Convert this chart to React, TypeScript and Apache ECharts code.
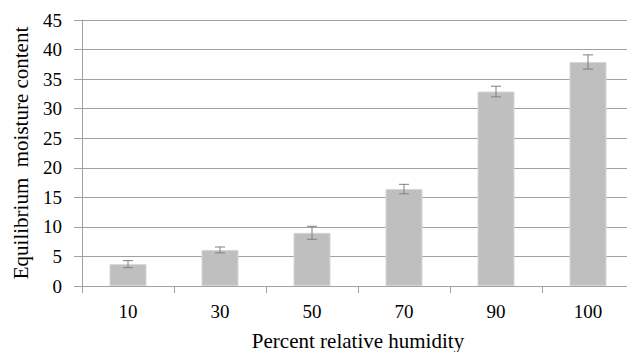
import React, { useEffect, useRef } from "react";
import * as echarts from "echarts";

const categories = ["10", "30", "50", "70", "90", "100"];
const values = [3.7, 6.1, 9.0, 16.4, 32.9, 37.9];
const errors = [0.6, 0.5, 1.1, 0.8, 0.9, 1.2];

export default function App() {
  const ref = useRef<HTMLDivElement>(null);
  useEffect(() => {
    if (!ref.current) return;
    const chart = echarts.init(ref.current, null, { renderer: "svg" });
    const font = "Liberation Serif";
    const errData = values.map((v, i) => [i, v - errors[i], v + errors[i]]);
    chart.setOption({
      animation: false,
      backgroundColor: "#ffffff",
      textStyle: { fontFamily: font },
      grid: { left: 82, top: 20, right: -7, bottom: 66, outerBoundsMode: "none", containLabel: false },
      xAxis: {
        type: "category",
        data: categories,
        name: "Percent relative humidity",
        nameLocation: "middle",
        nameGap: 44,
        nameTextStyle: { fontFamily: font, fontSize: 21, color: "#000" },
        axisLine: { show: true, lineStyle: { color: "#a0a0a0", width: 1 } },
        axisTick: { show: true, length: 7, lineStyle: { color: "#a0a0a0" } },
        axisLabel: { fontFamily: font, fontSize: 19, color: "#000", margin: 16 },
      },
      yAxis: {
        type: "value",
        min: 0,
        max: 45,
        interval: 5,
        name: "Equilibrium  moisture content",
        nameLocation: "middle",
        nameGap: 51,
        nameTextStyle: { fontFamily: font, fontSize: 21, color: "#000" },
        axisLine: { show: true, lineStyle: { color: "#a0a0a0", width: 1 } },
        axisTick: { show: true, length: 8, lineStyle: { color: "#a0a0a0" } },
        axisLabel: { fontFamily: font, fontSize: 19, color: "#000", margin: 20 },
        splitLine: { lineStyle: { color: "#a0a0a0", width: 1 } },
      },
      series: [
        {
          type: "bar",
          data: values,
          barWidth: 37,
          itemStyle: { color: "#bfbfbf", borderColor: "#d6d6d6", borderWidth: 1 },
        },
        {
          type: "custom",
          data: errData,
          z: 10,
          renderItem: (params: any, api: any) => {
            const x = api.value(0);
            const lo = api.coord([x, api.value(1)]);
            const hi = api.coord([x, api.value(2)]);
            const hw = 5;
            const style = { stroke: "#7f7f7f", lineWidth: 1 };
            return {
              type: "group",
              children: [
                { type: "line", shape: { x1: lo[0], y1: lo[1], x2: hi[0], y2: hi[1] }, style },
                { type: "line", shape: { x1: lo[0] - hw, y1: lo[1], x2: lo[0] + hw, y2: lo[1] }, style },
                { type: "line", shape: { x1: hi[0] - hw, y1: hi[1], x2: hi[0] + hw, y2: hi[1] }, style },
              ],
            };
          },
        },
      ],
    });
    return () => chart.dispose();
  }, []);
  return <div ref={ref} style={{ width: 627, height: 352, position: "absolute", left: 0, top: 0 }} />;
}
